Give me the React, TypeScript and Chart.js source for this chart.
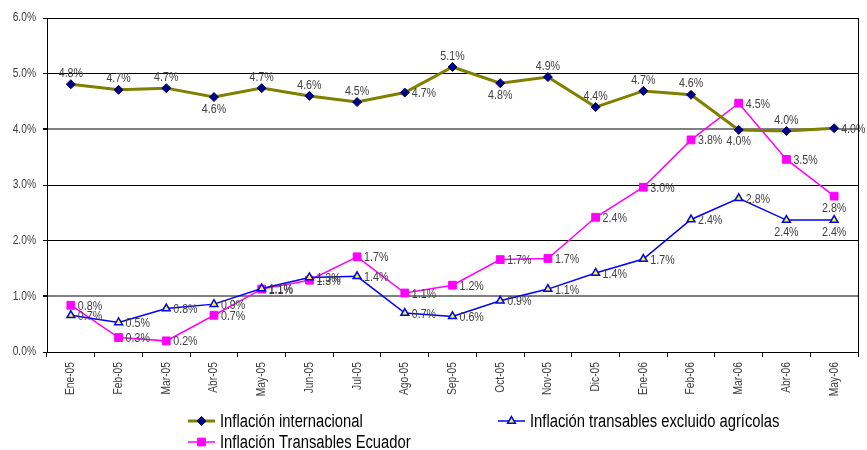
import React, { useEffect, useRef } from 'react';
import { Chart, registerables } from 'chart.js';

Chart.register(...registerables);

const FONT = "'Liberation Sans', Arial, sans-serif";
const NARROW = 0.82;

const categories = ['Ene-05', 'Feb-05', 'Mar-05', 'Abr-05', 'May-05', 'Jun-05', 'Jul-05', 'Ago-05', 'Sep-05', 'Oct-05', 'Nov-05', 'Dic-05', 'Ene-06', 'Feb-06', 'Mar-06', 'Abr-06', 'May-06'];

const inflacionInternacional = [4.81, 4.71, 4.74, 4.58, 4.74, 4.6, 4.49, 4.66, 5.12, 4.83, 4.94, 4.4, 4.69, 4.62, 3.99, 3.97, 4.02];
const inflacionExcluidoAgricolas = [0.66, 0.53, 0.78, 0.86, 1.14, 1.34, 1.36, 0.7, 0.64, 0.92, 1.13, 1.42, 1.67, 2.38, 2.76, 2.37, 2.37];
const inflacionTransablesEcuador = [0.84, 0.26, 0.2, 0.66, 1.13, 1.29, 1.71, 1.06, 1.2, 1.66, 1.68, 2.42, 2.96, 3.81, 4.47, 3.46, 2.8];

const yTicks = [0, 1, 2, 3, 4, 5, 6];
const yTickLabels = ['0.0%', '1.0%', '2.0%', '3.0%', '4.0%', '5.0%', '6.0%'];

const posInternacional = ['above', 'above', 'above', 'below', 'above', 'above', 'above', 'right', 'above', 'below', 'above', 'above', 'above', 'above', 'below', 'above', 'right'];
const posExcluido = ['right', 'right', 'right', 'right', 'right', 'right', 'right', 'right', 'right', 'right', 'right', 'right', 'right', 'right', 'right', 'below', 'below'];
const posEcuador = ['right', 'right', 'right', 'right', 'right', 'right', 'right', 'right', 'right', 'right', 'right', 'right', 'right', 'right', 'right', 'right', 'below'];

function narrowText(ctx: CanvasRenderingContext2D, text: string, x: number, y: number, align: CanvasTextAlign, rotate = 0) {
  ctx.save();
  ctx.translate(x, y);
  if (rotate) ctx.rotate(rotate);
  ctx.scale(NARROW, 1);
  ctx.textAlign = align;
  ctx.textBaseline = 'middle';
  ctx.fillText(text, 0, 0);
  ctx.restore();
}

function drawMarker(ctx: CanvasRenderingContext2D, style: string, x: number, y: number, r: number, fill: string, stroke: string, lw: number) {
  ctx.save();
  ctx.beginPath();
  if (style === 'rectRot') {
    ctx.moveTo(x, y - r);
    ctx.lineTo(x + r, y);
    ctx.lineTo(x, y + r);
    ctx.lineTo(x - r, y);
    ctx.closePath();
  } else if (style === 'rect') {
    const s = Math.SQRT1_2 * r;
    ctx.rect(x - s, y - s, 2 * s, 2 * s);
  } else {
    const h = r * 1.5;
    const w = r * Math.sqrt(3) / 2;
    ctx.moveTo(x, y - r);
    ctx.lineTo(x + w, y + h - r);
    ctx.lineTo(x - w, y + h - r);
    ctx.closePath();
  }
  ctx.fillStyle = fill;
  ctx.fill();
  ctx.lineWidth = lw;
  ctx.strokeStyle = stroke;
  ctx.stroke();
  ctx.restore();
}

const axisTextPlugin = {
  id: 'axisText',
  afterDraw(chart: any) {
    const ctx = chart.ctx as CanvasRenderingContext2D;
    const xs = chart.scales.x;
    const ys = chart.scales.y;
    const { left, bottom } = chart.chartArea;
    ctx.save();
    ctx.fillStyle = '#404040';
    ctx.font = `12.5px ${FONT}`;
    yTicks.forEach((v, i) => {
      narrowText(ctx, yTickLabels[i], left - 11, ys.getPixelForValue(v), 'right');
    });
    categories.forEach((c, i) => {
      narrowText(ctx, c, xs.getPixelForValue(i), bottom + 10, 'right', -Math.PI / 2);
    });
    ctx.restore();
  },
};

const pointLabelPlugin = {
  id: 'pointLabels',
  afterDatasetsDraw(chart: any) {
    const ctx = chart.ctx as CanvasRenderingContext2D;
    ctx.save();
    ctx.font = `13px ${FONT}`;
    ctx.fillStyle = '#404040';
    chart.data.datasets.forEach((ds: any, di: number) => {
      const meta = chart.getDatasetMeta(di);
      meta.data.forEach((pt: any, i: number) => {
        const text = (ds.data[i] as number).toFixed(1) + '%';
        const pos = ds.labelPositions[i];
        if (pos === 'right') {
          narrowText(ctx, text, pt.x + 7, pt.y + 1, 'left');
        } else if (pos === 'above') {
          narrowText(ctx, text, pt.x, pt.y - 11, 'center');
        } else {
          narrowText(ctx, text, pt.x, pt.y + 12, 'center');
        }
      });
    });
    ctx.restore();
  },
};

const frameAndLegendPlugin = {
  id: 'frameAndLegend',
  afterDraw(chart: any) {
    const ctx = chart.ctx as CanvasRenderingContext2D;
    const { right, top, bottom } = chart.chartArea;
    ctx.save();
    ctx.strokeStyle = '#000';
    ctx.lineWidth = 1;
    ctx.beginPath();
    ctx.moveTo(Math.round(right) + 0.5, top);
    ctx.lineTo(Math.round(right) + 0.5, bottom);
    ctx.stroke();

    const items = chart.options.plugins.frameAndLegend.items;
    ctx.font = `18px ${FONT}`;
    items.forEach((it: any) => {
      const ds = chart.data.datasets[it.index];
      ctx.strokeStyle = ds.borderColor;
      ctx.lineWidth = ds.borderWidth;
      ctx.beginPath();
      ctx.moveTo(it.x, it.y);
      ctx.lineTo(it.x + 27, it.y);
      ctx.stroke();
      drawMarker(ctx, ds.pointStyle, it.x + 13.5, it.y, ds.pointRadius, ds.pointBackgroundColor, ds.pointBorderColor, ds.pointBorderWidth);
      ctx.fillStyle = '#000';
      narrowText(ctx, ds.label, it.x + 32, it.y + 1, 'left');
    });
    ctx.restore();
  },
};

export default function App() {
  const canvasRef = useRef<HTMLCanvasElement | null>(null);

  useEffect(() => {
    if (!canvasRef.current) return;
    const chart = new Chart(canvasRef.current, {
      type: 'line',
      data: {
        labels: categories,
        datasets: [
          {
            label: 'Inflación internacional',
            data: inflacionInternacional,
            borderColor: '#808000',
            borderWidth: 3,
            pointStyle: 'rectRot',
            pointRadius: 4.5,
            pointBackgroundColor: '#000080',
            pointBorderColor: '#000080',
            pointBorderWidth: 1,
            tension: 0,
            labelPositions: posInternacional,
          } as any,
          {
            label: 'Inflación transables excluido agrícolas',
            data: inflacionExcluidoAgricolas,
            borderColor: '#0000FF',
            borderWidth: 1.5,
            pointStyle: 'triangle',
            pointRadius: 4.5,
            pointBackgroundColor: '#FFFF00',
            pointBorderColor: '#0000FF',
            pointBorderWidth: 1.5,
            tension: 0,
            labelPositions: posExcluido,
          } as any,
          {
            label: 'Inflación Transables Ecuador',
            data: inflacionTransablesEcuador,
            borderColor: '#FF00FF',
            borderWidth: 1.5,
            pointStyle: 'rect',
            pointRadius: 5.5,
            pointBackgroundColor: '#FF00FF',
            pointBorderColor: '#FF00FF',
            pointBorderWidth: 1,
            tension: 0,
            labelPositions: posEcuador,
          } as any,
        ],
      },
      options: {
        responsive: false,
        animation: false,
        devicePixelRatio: 1,
        layout: { padding: { top: 18, right: 9, left: 0, bottom: 0 } },
        plugins: {
          legend: { display: false },
          tooltip: { enabled: false },
          frameAndLegend: {
            items: [
              { index: 0, x: 188, y: 421 },
              { index: 1, x: 498, y: 421 },
              { index: 2, x: 188, y: 442 },
            ],
          },
        } as any,
        scales: {
          x: {
            type: 'category',
            offset: true,
            grid: {
              display: true,
              drawOnChartArea: false,
              drawTicks: true,
              tickLength: 5,
              color: '#000',
              offset: true,
            },
            border: { display: true, color: '#000', width: 1 },
            ticks: { display: false, autoSkip: false },
            afterFit: (scale: any) => {
              scale.height = 98;
            },
          },
          y: {
            min: 0,
            max: 6,
            afterBuildTicks: (scale: any) => {
              scale.ticks = yTicks.map((v) => ({ value: v }));
            },
            grid: {
              drawTicks: true,
              tickLength: 4,
              tickColor: '#000',
              color: (c: any) => (c.tick && (c.tick.value === 1 || c.tick.value === 4) ? '#808080' : '#000'),
              lineWidth: (c: any) => (c.tick && (c.tick.value === 1 || c.tick.value === 4) ? 2 : 1),
            },
            border: { display: true, color: '#000', width: 1 },
            ticks: { display: false },
            afterFit: (scale: any) => {
              scale.width = 47;
            },
          },
        },
      },
      plugins: [pointLabelPlugin, axisTextPlugin, frameAndLegendPlugin],
    });
    return () => chart.destroy();
  }, []);

  return (
    <div style={{ position: 'absolute', left: 0, top: 0, width: 867, height: 450, background: '#fff' }}>
      <canvas ref={canvasRef} width={867} height={450} style={{ width: 867, height: 450, display: 'block' }} />
    </div>
  );
}
